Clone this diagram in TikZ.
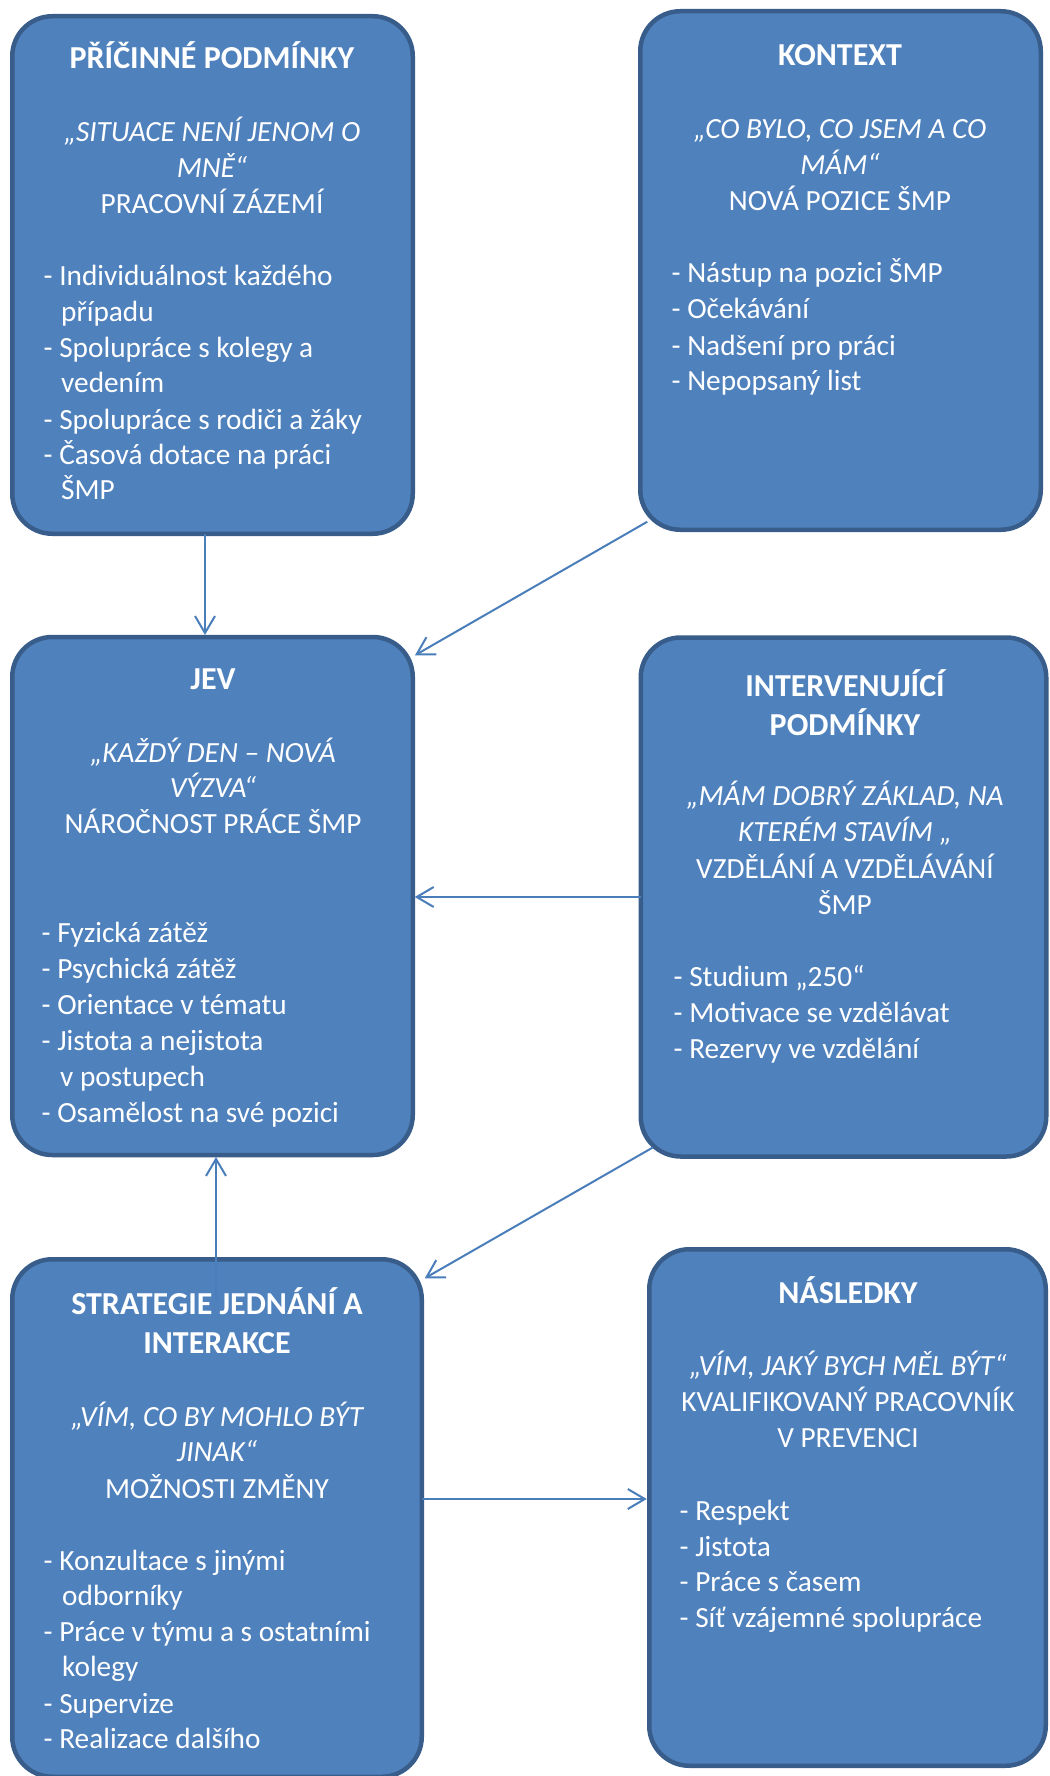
\documentclass[tikz,border=0pt]{standalone}
\usepackage{fontspec}
\setmainfont{Carlito}
\usetikzlibrary{arrows.meta,calc}
\definecolor{boxfill}{HTML}{4F81BD}
\definecolor{boxline}{HTML}{385D8A}
\definecolor{arrowcol}{HTML}{4A7EBB}
\begin{document}
\begin{tikzpicture}[x=1pt,y=-1pt,
  box/.style={draw=boxline, fill=boxfill, line width=4.5pt, rounded corners=40pt, inner sep=0pt, outer sep=0pt},
  ttl/.style={font=\fontsize{32}{39}\selectfont\bfseries, text=white, anchor=base, inner sep=0pt, yshift=-2pt},
  quo/.style={font=\fontsize{29.3}{36}\selectfont\itshape, text=white, anchor=base, inner sep=0pt, yshift=-1.5pt},
  bod/.style={font=\fontsize{29.3}{36}\selectfont, text=white, anchor=base, inner sep=0pt, yshift=-1.5pt},
  itm/.style={font=\fontsize{29.3}{36}\selectfont, text=white, inner sep=0pt, anchor=base west},
  conn/.style={draw=arrowcol, line width=2pt, -{Straight Barb[length=17pt,width=20pt]}}
]
\useasboundingbox (0,0) rectangle (1049,1776);
\fill[white] (0,0) rectangle (1049,1776);

% boxes
\node[box, minimum width=400.5pt, minimum height=517.5pt] (b1) at (212.5,275) {};
\node[box, minimum width=400.5pt, minimum height=518.5pt] (b2) at (840.5,270.5) {};
\node[box, minimum width=400.5pt, minimum height=518pt] (b3) at (212.5,896) {};
\node[box, minimum width=405.5pt, minimum height=519pt] (b4) at (843.5,897) {};
\node[box, minimum width=409.5pt, minimum height=517.5pt] (b5) at (217,1518) {};
\node[box, minimum width=396.5pt, minimum height=516.5pt] (b6) at (847.5,1507.5) {};

% connectors
\draw[conn] ($(b1.south)+(-7.5,0)$) -- ($(b3.north)+(-7.5,-2)$);
\draw[conn] ($(b2.south west)+(7,-8)$) -- ($(b3.north east)+(2.25,18.25)$);
\draw[conn] (b4.west) -- ($(b4.west -| b3.east)+(2,0)$);
\draw[conn] ($(b4.south west)+(12,-9)$) -- ($(b5.north east)+(3,19)$);
\coordinate (s5) at ($(b5.north)+(-1,41)$);
\draw[conn] (s5) -- ($(s5 |- b3.south)+(0,2)$);
\coordinate (s6) at ($(b5.east)+(0,-19)$);
\draw[conn] (s6) -- ($(s6 -| b6.west)+(-2.5,0)$);

% box 1
\node[ttl] (b1t) at (212,67) {PŘÍČINNÉ PODMÍNKY};
\node[quo] (b1q1) at (212,140) {„SITUACE NENÍ JENOM O};
\node[quo] (b1q2) at (212,176) {MNĚ“};
\node[bod] (b1s) at (212,212.5) {PRACOVNÍ ZÁZEMÍ};
\node[itm] (b1i1) at (43.5,286) {- Individuálnost každého};
\node[itm] (b1i2) at (61,321) {případu};
\node[itm] (b1i3) at (43.5,357) {- Spolupráce s kolegy a};
\node[itm] (b1i4) at (61,392) {vedením};
\node[itm] (b1i5) at (43.5,429) {- Spolupráce s rodiči a žáky};
\node[itm] (b1i6) at (43.5,464) {- Časová dotace na práci};
\node[itm] (b1i7) at (61,499) {ŠMP};

% box 2
\node[ttl] (b2t) at (840,64) {KONTEXT};
\node[quo] (b2q1) at (840,137.5) {„CO BYLO, CO JSEM A CO};
\node[quo] (b2q2) at (840,173) {MÁM“};
\node[bod] (b2s) at (840,209) {NOVÁ POZICE ŠMP};
\node[itm] (b2i1) at (671.5,283) {- Nástup na pozici ŠMP};
\node[itm] (b2i2) at (671.5,319) {- Očekávání};
\node[itm] (b2i3) at (671.5,355) {- Nadšení pro práci};
\node[itm] (b2i4) at (671.5,390) {- Nepopsaný list};

% box 3
\node[ttl] (b3t) at (213,687) {JEV};
\node[quo] (b3q1) at (213,760.5) {„KAŽDÝ DEN – NOVÁ};
\node[quo] (b3q2) at (213,796) {VÝZVA“};
\node[bod] (b3s) at (213,832) {NÁROČNOST PRÁCE ŠMP};
\node[itm] (b3i1) at (41.5,942) {- Fyzická zátěž};
\node[itm] (b3i2) at (41.5,978) {- Psychická zátěž};
\node[itm] (b3i3) at (41.5,1014) {- Orientace v tématu};
\node[itm] (b3i4) at (41.5,1050) {- Jistota a nejistota};
\node[itm] (b3i5) at (60,1086) {v postupech};
\node[itm] (b3i6) at (41.5,1122) {- Osamělost na své pozici};

% box 4
\node[ttl] (b4t1) at (845,694) {INTERVENUJÍCÍ};
\node[ttl] (b4t2) at (845,733) {PODMÍNKY};
\node[quo] (b4q1) at (845,804) {„MÁM DOBRÝ ZÁKLAD, NA};
\node[quo] (b4q2) at (845,840) {KTERÉM STAVÍM „};
\node[bod] (b4s1) at (845,876.5) {VZDĚLÁNÍ A VZDĚLÁVÁNÍ};
\node[bod] (b4s2) at (845,913) {ŠMP};
\node[itm] (b4i1) at (673.5,986) {- Studium „250“};
\node[itm] (b4i2) at (673.5,1022) {- Motivace se vzdělávat};
\node[itm] (b4i3) at (673.5,1058) {- Rezervy ve vzdělání};

% box 5
\node[ttl] (b5t1) at (217,1312) {STRATEGIE JEDNÁNÍ A};
\node[ttl] (b5t2) at (217,1351) {INTERAKCE};
\node[quo] (b5q1) at (217,1425) {„VÍM, CO BY MOHLO BÝT};
\node[quo] (b5q2) at (217,1460) {JINAK“};
\node[bod] (b5s) at (217,1497) {MOŽNOSTI ZMĚNY};
\node[itm] (b5i1) at (43.5,1570) {- Konzultace s jinými};
\node[itm] (b5i2) at (62,1605) {odborníky};
\node[itm] (b5i3) at (43.5,1641) {- Práce v týmu a s ostatními};
\node[itm] (b5i4) at (62,1676) {kolegy};
\node[itm] (b5i5) at (43.5,1713) {- Supervize};
\node[itm] (b5i6) at (43.5,1748) {- Realizace dalšího};

% box 6
\node[ttl] (b6t) at (848,1301) {NÁSLEDKY};
\node[quo] (b6q) at (848,1374) {„VÍM, JAKÝ BYCH MĚL BÝT“};
\node[bod] (b6s1) at (848,1410) {KVALIFIKOVANÝ PRACOVNÍK};
\node[bod] (b6s2) at (848,1446) {V PREVENCI};
\node[itm] (b6i1) at (679.5,1520) {- Respekt};
\node[itm] (b6i2) at (679.5,1556) {- Jistota};
\node[itm] (b6i3) at (679.5,1591) {- Práce s časem};
\node[itm] (b6i4) at (679.5,1627) {- Síť vzájemné spolupráce};
\end{tikzpicture}
\end{document}
